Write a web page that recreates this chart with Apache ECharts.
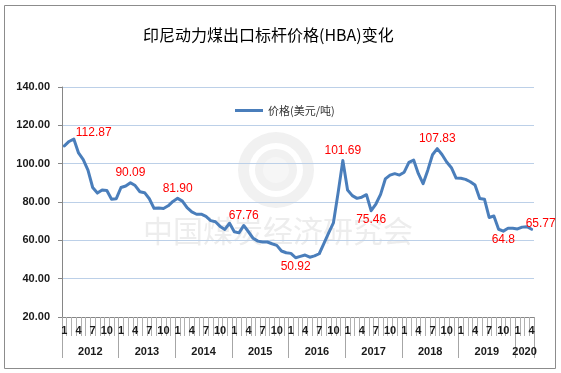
<!DOCTYPE html>
<html><head><meta charset="utf-8">
<script src="https://cdn.jsdelivr.net/npm/echarts@6/dist/echarts.min.js"></script>
<style>html,body{margin:0;padding:0;background:#fff}#c{width:561px;height:373px}</style>
</head><body><div id="c"></div>
<script>
const years = ['2012','2013','2014','2015','2016','2017','2018','2019','2020'];
const monthsInYear = [12,12,12,12,12,12,12,12,4];
const hba2012 = [109.29,111.58,112.87,105.61,102.12,96.65,87.56,84.65,86.21,86.04,81.44,81.75];
const hba2013 = [87.55,88.35,90.09,88.56,85.33,84.87,81.69,76.70,76.89,76.61,78.03,80.31];
const hba2014 = [81.90,80.44,77.01,74.81,73.60,73.64,72.45,70.29,69.69,67.26,65.70,68.90];
const hba2015 = [64.50,63.90,67.76,64.48,61.08,59.59,59.16,59.14,58.21,57.39,54.43,53.51];
const hba2016 = [53.20,50.92,51.62,52.32,51.20,51.87,53.00,58.37,63.93,69.07,84.89,101.69];
const hba2017 = [86.23,83.32,81.90,82.51,83.81,75.46,78.95,83.97,92.03,93.99,94.80,94.04];
const hba2018 = [95.54,100.69,101.86,94.75,89.53,96.61,104.65,107.83,104.81,100.89,97.90,92.51];
const hba2019 = [92.41,91.80,90.57,88.85,81.86,81.48,71.92,72.67,65.79,64.80,66.27,66.30];
const hba2020 = [65.93,66.89,67.08,65.77];
const labelIndex = [2,14,24,38,49,59,65,79,93,99];
const labelText = ['112.87','90.09','81.90','67.76','50.92','101.69','75.46','107.83','64.8','65.77'];
const seriesName = '价格(美元/吨)';
const titleText = '印尼动力煤出口标杆价格(HBA)变化';

// styles (kept separate from data)
const labelPos = ['right','top','top','top','bottom','top','bottom','top','bottom','top'];
const labelOffset = [[-2,-6],[0,0],[0,0],[0,0],[0,0],[0,0],[0,0],[0,0],[0,0],[9,4]];

const prices = [].concat(hba2012,hba2013,hba2014,hba2015,hba2016,hba2017,hba2018,hba2019,hba2020);
const monthCats = [];
years.forEach((y,i)=>{ for(let m=1;m<=monthsInYear[i];m++) monthCats.push(String(m)); });
const boundaryCats = [];
const yearMid = {}; const yearEdge = new Set(); let s = 0;
years.forEach((y,i)=>{ yearEdge.add(s); yearMid[s+monthsInYear[i]/2]=y; s+=monthsInYear[i]; });
yearEdge.add(s);
for(let k=0;k<=prices.length;k++) boundaryCats.push(yearMid[k]||'');

const seriesData = prices.map((v,i)=>{
  const j = labelIndex.indexOf(i);
  if(j<0) return v;
  return {value:v, label:{show:true, position:labelPos[j], offset:labelOffset[j], formatter:labelText[j], distance: labelPos[j]==='bottom'?3:4}};
});

const chart = echarts.init(document.getElementById('c'), null, {renderer:'canvas'});
const axisFont = {fontFamily:'Liberation Sans, Arial, sans-serif', fontSize:11, fontWeight:'bold', color:'#1a1a1a'};
chart.setOption({
  animation:false,
  backgroundColor:'#fff',
  title:{text:titleText, left:138, top:22, textStyle:{fontFamily:'Noto Sans CJK SC', fontSize:16, fontWeight:'normal', color:'#000'}},
  legend:{data:[seriesName], left:230, top:100, icon:'rect', itemWidth:28, itemHeight:3, itemGap:5,
    textStyle:{fontFamily:'Noto Sans CJK SC', fontSize:11, color:'#333'}},
  grid:{left:62, right:27, top:87, bottom:56},
  xAxis:[
    {type:'category', data:monthCats, boundaryGap:true,
     axisLine:{show:true, lineStyle:{color:'#868686'}},
     axisTick:{show:true, interval:0, length:19, lineStyle:{color:'#B0B0B0'}},
     axisLabel:Object.assign({interval:2, margin:8}, axisFont),
     splitLine:{show:false}},
    {type:'category', data:boundaryCats, boundaryGap:false, position:'bottom',
     axisLine:{show:false},
     axisTick:{show:true, length:41, interval:(i)=>yearEdge.has(i), lineStyle:{color:'#A6A6A6'}},
     axisLabel:Object.assign({interval:(i,v)=>v!=='', margin:29}, axisFont),
     splitLine:{show:false}}
  ],
  yAxis:{type:'value', min:20, max:140, interval:20,
    axisLine:{show:true, lineStyle:{color:'#868686'}},
    axisTick:{show:true, length:4, lineStyle:{color:'#868686'}},
    axisLabel:Object.assign({margin:12, formatter:(v)=>v.toFixed(2)}, axisFont),
    splitLine:{show:true, lineStyle:{color:'#BCD0E8', width:1}}},
  graphic:[
    {type:'rect', shape:{x:4.5,y:5.5,width:551,height:363}, style:{fill:'none', stroke:'#8C8C8C', lineWidth:1}, z:0},
    {type:'circle', shape:{cx:276, cy:170, r:38}, style:{fill:'#F1F1F1'}, z:0},
    {type:'ring', shape:{cx:276, cy:170, r:27, r0:21}, style:{fill:'#FFFFFF'}, z:0},
    {type:'circle', shape:{cx:276, cy:170, r:13}, style:{fill:'#F6F6F6'}, z:0},
    {type:'text', left:143, top:216, style:{text:'中国煤炭经济研究会', font:'30px "Noto Sans CJK SC"', fill:'#EDEDED'}, z:0}
  ],
  series:[{
    name:seriesName, type:'line', xAxisIndex:0, data:seriesData,
    showSymbol:true, showAllSymbol:true, symbol:'circle', symbolSize:0,
    lineStyle:{color:'#4A7EBB', width:3, cap:'round', join:'round'},
    itemStyle:{color:'#4A7EBB'},
    label:{show:false, color:'#FF0000', fontFamily:'Liberation Sans, Arial, sans-serif', fontSize:12},
    z:3
  }]
});
</script></body></html>
